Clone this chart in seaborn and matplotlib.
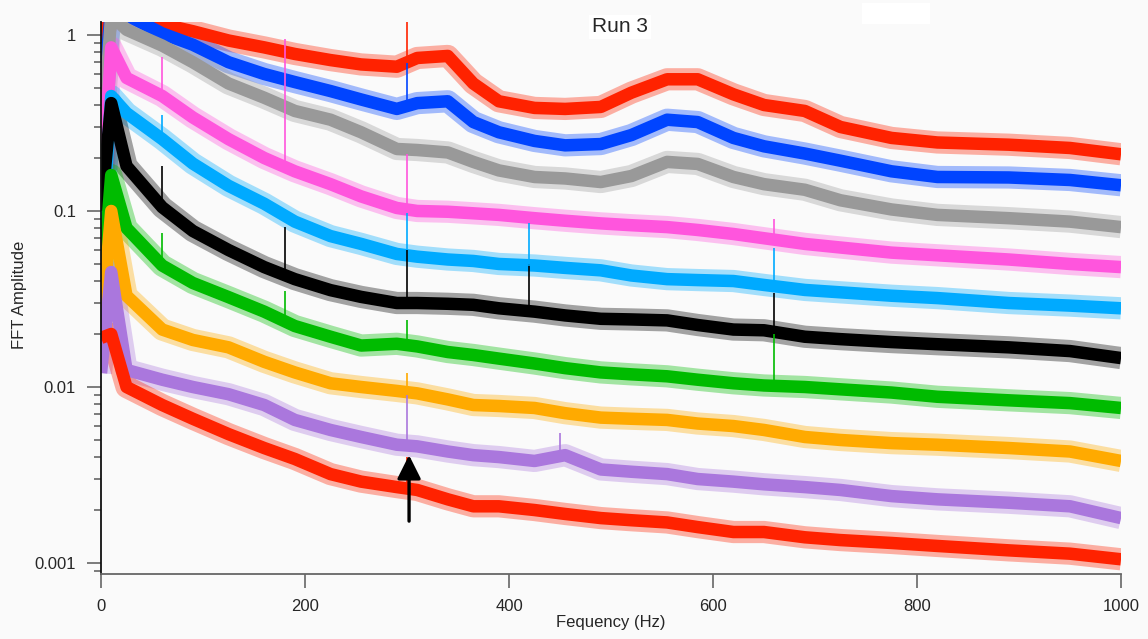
import matplotlib
matplotlib.use("Agg")
import matplotlib.pyplot as plt
from matplotlib.patches import Rectangle
from matplotlib.ticker import FixedLocator, LogLocator, NullFormatter
import seaborn as sns
import pandas as pd

freq = [0, 10, 25, 60, 90, 125, 160, 190, 225, 255, 290, 310, 340, 365, 390,
        425, 455, 490, 520, 555, 585, 620, 650, 690, 725, 775, 820, 890, 950, 1000]

red_top = [0.9, 1.4, 1.35, 1.15, 1.05, 0.93, 0.85, 0.78, 0.72, 0.68, 0.66, 0.74, 0.76, 0.53, 0.42,
           0.385, 0.38, 0.39, 0.47, 0.56, 0.56, 0.46, 0.40, 0.37, 0.30, 0.26, 0.245, 0.238, 0.228, 0.21]
blue = [0.35, 1.4, 1.3, 1.02, 0.88, 0.70, 0.60, 0.54, 0.48, 0.43, 0.38, 0.41, 0.42, 0.32, 0.28,
        0.25, 0.236, 0.24, 0.27, 0.33, 0.32, 0.26, 0.233, 0.212, 0.193, 0.168, 0.156, 0.155, 0.15, 0.14]
gray = [0.2, 1.3, 1.07, 0.87, 0.70, 0.53, 0.44, 0.37, 0.33, 0.28, 0.225, 0.222, 0.215, 0.19, 0.17,
        0.156, 0.153, 0.146, 0.158, 0.19, 0.185, 0.156, 0.142, 0.132, 0.115, 0.102, 0.095, 0.091, 0.087, 0.081]
pink = [0.1, 0.85, 0.57, 0.45, 0.34, 0.256, 0.20, 0.168, 0.142, 0.121, 0.104, 0.10, 0.099, 0.097, 0.095,
        0.091, 0.088, 0.085, 0.083, 0.081, 0.078, 0.074, 0.070, 0.065, 0.062, 0.058, 0.056, 0.053, 0.050, 0.048]
cyan = [0.06, 0.45, 0.36, 0.256, 0.186, 0.139, 0.11, 0.087, 0.072, 0.065, 0.057, 0.055, 0.053, 0.052, 0.050,
        0.049, 0.0475, 0.046, 0.043, 0.041, 0.0405, 0.040, 0.038, 0.0356, 0.0345, 0.033, 0.032, 0.030, 0.029, 0.028]
black = [0.1, 0.41, 0.18, 0.105, 0.077, 0.060, 0.048, 0.041, 0.0355, 0.0325, 0.030, 0.030, 0.0297, 0.0293, 0.028,
         0.0268, 0.0255, 0.0244, 0.0242, 0.0239, 0.0225, 0.0212, 0.021, 0.0193, 0.0187, 0.018, 0.0175, 0.0168, 0.016, 0.0146]
green = [0.03, 0.16, 0.08, 0.049, 0.039, 0.0324, 0.0268, 0.0222, 0.0193, 0.0172, 0.0176, 0.017, 0.0158, 0.0152, 0.0145,
         0.0136, 0.0128, 0.0121, 0.0118, 0.0115, 0.011, 0.0105, 0.0102, 0.0100, 0.0097, 0.0093, 0.0088, 0.0084, 0.0081, 0.0076]
orange = [0.02, 0.10, 0.033, 0.0212, 0.0185, 0.0168, 0.0139, 0.0121, 0.0105, 0.0100, 0.0095, 0.0092, 0.0085, 0.0079, 0.0078,
          0.0076, 0.0071, 0.0067, 0.0066, 0.0065, 0.0062, 0.0060, 0.0057, 0.0052, 0.0050, 0.0048, 0.0047, 0.0045, 0.0043, 0.0038]
purple = [0.012, 0.045, 0.0125, 0.011, 0.010, 0.0091, 0.0079, 0.0065, 0.0057, 0.0052, 0.0047, 0.0046, 0.0043, 0.0041, 0.0040,
          0.0038, 0.0041, 0.0034, 0.0033, 0.0032, 0.0030, 0.0029, 0.0028, 0.0027, 0.0026, 0.0024, 0.0023, 0.0022, 0.0021, 0.0018]
red_bottom = [0.019, 0.02, 0.010, 0.0079, 0.0066, 0.0054, 0.0045, 0.0039, 0.0032, 0.0029, 0.0027, 0.0026, 0.0023, 0.0021, 0.0021,
              0.0020, 0.0019, 0.0018, 0.00175, 0.0017, 0.0016, 0.0015, 0.0015, 0.0014, 0.00135, 0.0013, 0.00125, 0.00118, 0.00113, 0.00105]

trace_names = ["red_top", "blue", "gray", "pink", "cyan", "black", "green", "orange", "purple", "red_bottom"]
trace_values = [red_top, blue, gray, pink, cyan, black, green, orange, purple, red_bottom]
trace_colors = ["#ff2200", "#0044ff", "#999999", "#ff55dd", "#00aaff", "#000000",
                "#00bb00", "#ffaa00", "#aa77dd", "#ff2200"]

# narrow spikes sticking out of the traces: (freq, trace, base, top)
spike_freq = [300, 300, 300, 300, 300, 300, 300, 300, 300,
              60, 60, 60, 60, 180, 180, 180, 420, 420, 660, 660, 660, 660, 450]
spike_trace = ["red_top", "blue", "pink", "cyan", "black", "green", "orange", "purple", "red_bottom",
               "pink", "cyan", "black", "green", "pink", "black", "green", "black", "cyan",
               "pink", "cyan", "black", "green", "purple"]
spike_base = [0.66, 0.38, 0.104, 0.057, 0.030, 0.0176, 0.0095, 0.0047, 0.0027,
              0.45, 0.256, 0.105, 0.049, 0.17, 0.041, 0.022, 0.027, 0.049, 0.070, 0.038, 0.021, 0.0102, 0.0038]
spike_top = [1.2, 0.69, 0.21, 0.098, 0.06, 0.024, 0.012, 0.009, 0.004,
             0.75, 0.35, 0.18, 0.075, 0.95, 0.081, 0.035, 0.05, 0.085, 0.09, 0.062, 0.034, 0.02, 0.0055]

arrow_freq = 302
arrow_tail = 0.00173
arrow_tip = 0.0041

rows = []
for name, vals in zip(trace_names, trace_values):
    for f, v in zip(freq, vals):
        rows.append({"freq": f, "amp": v, "trace": name})
df = pd.DataFrame(rows)
palette = dict(zip(trace_names, trace_colors))

sns.set_style("white")
plt.rcParams["font.family"] = ["Liberation Sans", "DejaVu Sans"]
bg = "#fafafa"
fig = plt.figure(figsize=(11.48, 6.39), dpi=100, facecolor=bg)
ax = fig.add_axes([0.088, 0.1017, 0.8885, 0.864])
ax.set_facecolor(bg)

# noise fringe then the dense core of each band
sns.lineplot(data=df, x="freq", y="amp", hue="trace", palette=palette, linewidth=16,
             alpha=0.35, legend=False, ax=ax, solid_joinstyle="round", solid_capstyle="butt")
sns.lineplot(data=df, x="freq", y="amp", hue="trace", palette=palette, linewidth=9,
             alpha=1.0, legend=False, ax=ax, solid_joinstyle="round", solid_capstyle="butt")
ax.vlines(spike_freq, spike_base, spike_top, colors=[palette[t] for t in spike_trace], linewidth=1.2)

ax.annotate("", xy=(arrow_freq, arrow_tip), xytext=(arrow_freq, arrow_tail),
            arrowprops=dict(arrowstyle="-|>", color="black", lw=2.4, mutation_scale=36,
                            shrinkA=0, shrinkB=0))

ax.set_yscale("log")
ax.set_xlim(0, 1000)
ax.set_ylim(0.000866, 1.186)
ax.yaxis.set_major_locator(FixedLocator([0.001, 0.01, 0.1, 1]))
ax.set_yticklabels(["0.001", "0.01", "0.1", "1"])
ax.yaxis.set_minor_locator(LogLocator(base=10, subs=range(2, 10)))
ax.yaxis.set_minor_formatter(NullFormatter())
ax.set_xticks([0, 200, 400, 600, 800, 1000])
ax.tick_params(axis="both", which="major", direction="out", length=10, width=1.2,
               color="#666666", labelsize=12, pad=8, left=True, bottom=True)
ax.tick_params(axis="y", which="minor", direction="out", length=5, width=1.2,
               color="#666666", left=True)

for side in ["top", "right"]:
    ax.spines[side].set_visible(False)
ax.spines["left"].set_color("#111111")
ax.spines["bottom"].set_color("#666666")
ax.spines["left"].set_linewidth(1.3)
ax.spines["bottom"].set_linewidth(1.3)

ax.set_xlabel("Fequency (Hz)", fontsize=12, labelpad=4)
ax.set_ylabel("FFT Amplitude", fontsize=12, labelpad=20)
ax.xaxis.set_label_coords(0.5, -0.075)
ax.yaxis.set_label_coords(-0.073, 0.505)

fig.text(620 / 1148, 1 - 27 / 639, "Run 3", fontsize=15, ha="center", va="center",
         bbox=dict(facecolor="white", edgecolor="none", pad=2))
fig.patches.append(Rectangle((862 / 1148, 1 - 24 / 639), 68 / 1148, 21 / 639,
                             transform=fig.transFigure, facecolor="white", edgecolor="none"))

fig.savefig("out.png", dpi=100, facecolor=bg)
